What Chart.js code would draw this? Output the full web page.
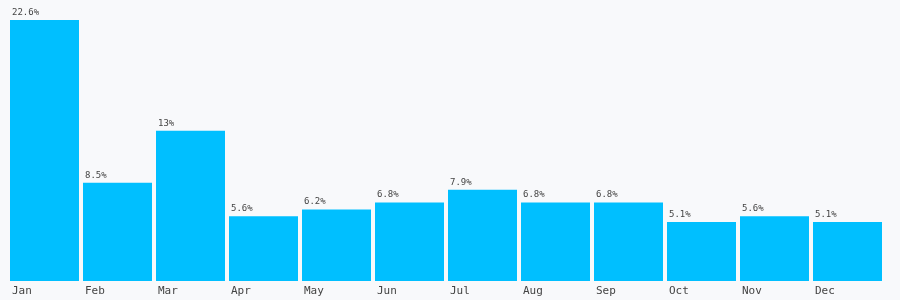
<!DOCTYPE html>
<html>
<head>
<meta charset="utf-8">
<script src="https://cdn.jsdelivr.net/npm/chart.js@4/dist/chart.umd.min.js"></script>
<style>
  html, body { margin: 0; padding: 0; background: #f8f9fb; }
  #wrap { width: 900px; height: 300px; }
</style>
</head>
<body>
<div id="wrap"><canvas id="myChart"></canvas></div>
<script>
const months = ['Jan', 'Feb', 'Mar', 'Apr', 'May', 'Jun', 'Jul', 'Aug', 'Sep', 'Oct', 'Nov', 'Dec'];
const shares = [22.6, 8.5, 13, 5.6, 6.2, 6.8, 7.9, 6.8, 6.8, 5.1, 5.6, 5.1];

const FONT = "'DejaVu Sans Mono', 'Liberation Mono', monospace";

// value labels drawn just above the left edge of each bar
const valueLabels = {
  id: 'valueLabels',
  afterDatasetsDraw(chart) {
    const { ctx } = chart;
    const meta = chart.getDatasetMeta(0);
    ctx.save();
    ctx.font = '9px ' + FONT;
    ctx.fillStyle = '#444';
    ctx.textAlign = 'left';
    ctx.textBaseline = 'alphabetic';
    meta.data.forEach((bar, i) => {
      const left = bar.x - bar.width / 2;
      ctx.fillText(shares[i] + '%', left + 2, bar.y - 5);
    });
    ctx.restore();
  },
};

const ctx = document.getElementById('myChart').getContext('2d');
new Chart(ctx, {
  type: 'bar',
  data: {
    labels: months,
    datasets: [
      {
        data: shares,
        backgroundColor: '#00bfff',
        borderWidth: 0,
        barPercentage: 1,
        categoryPercentage: 69 / 73,
      },
    ],
  },
  options: {
    responsive: true,
    maintainAspectRatio: false,
    animation: false,
    layout: { padding: { left: 8, right: 16, top: 20, bottom: 2 } },
    plugins: {
      legend: { display: false },
      tooltip: { enabled: false },
    },
    scales: {
      x: {
        grid: { display: false, drawTicks: false },
        border: { display: false },
        afterFit: (scale) => { scale.height = 17; },
        ticks: {
          align: 'start',
          labelOffset: -32.5,
          padding: 4,
          color: '#444',
          font: { family: FONT, size: 11 },
        },
      },
      y: {
        display: false,
        min: 0,
        max: 22.6,
      },
    },
  },
  plugins: [valueLabels],
});
</script>
</body>
</html>
